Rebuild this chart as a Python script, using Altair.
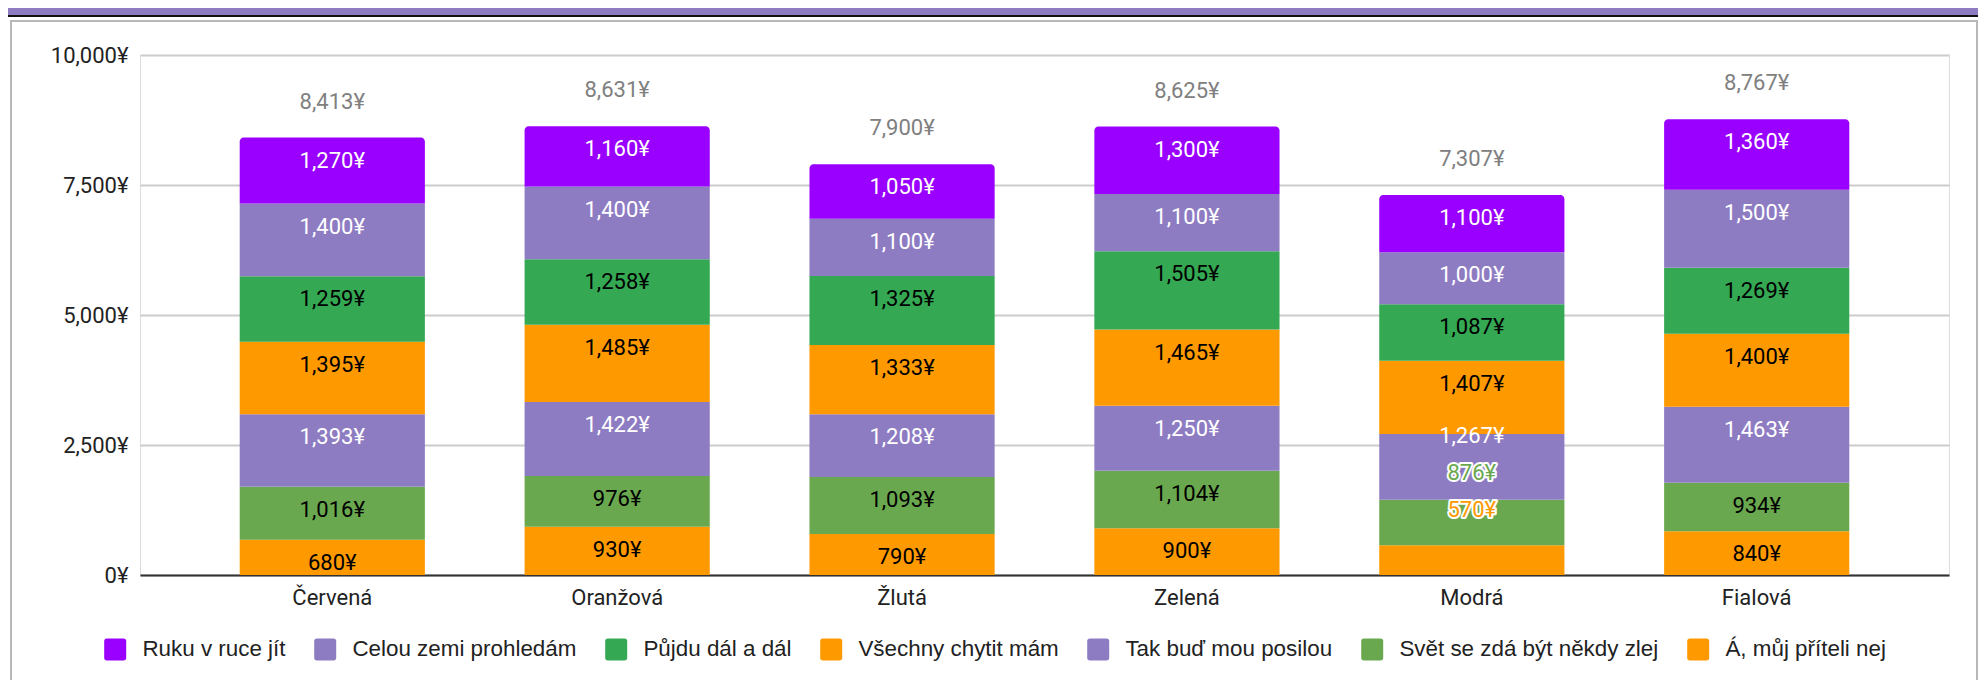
import altair as alt
import pandas as pd

# ---------------- data ----------------
categories = ["Červená", "Oranžová", "Žlutá", "Zelená", "Modrá", "Fialová"]

# legend order (top of the stack first)
series = [
    "Ruku v ruce jít",
    "Celou zemi prohledám",
    "Půjdu dál a dál",
    "Všechny chytit mám",
    "Tak buď mou posilou",
    "Svět se zdá být někdy zlej",
    "Á, můj příteli nej",
]
colors = ["#9900ff", "#8e7cc3", "#34a853", "#ff9900", "#8e7cc3", "#6aa84f", "#ff9900"]
label_colors = ["#ffffff", "#ffffff", "#000000", "#000000", "#ffffff", "#000000", "#000000"]

ruku = [1270, 1160, 1050, 1300, 1100, 1360]
celou = [1400, 1400, 1100, 1100, 1000, 1500]
pujdu = [1259, 1258, 1325, 1505, 1087, 1269]
vsechny = [1395, 1485, 1333, 1465, 1407, 1400]
tak = [1393, 1422, 1208, 1250, 1267, 1463]
svet = [1016, 976, 1093.3, 1104.3, 876, 934.3]
a_muj = [680, 930, 790.3, 900.3, 570, 840.3]

y_ticks = [0, 2500, 5000, 7500, 10000]

# ---------------- layout constants ----------------
W, H, YMAX = 1809, 520, 10000
k = H / YMAX
INSIDE_DY = 23    # label centre below segment top (px)
OUTSIDE_DY = 35   # label centre above segment top when it does not fit (px)
MIN_H = 32        # minimal segment height for an inside label (px)
GAP = 37          # minimal vertical distance between labels (px)
FONT = "Roboto"

values = dict(zip(series, [ruku, celou, pujdu, vsechny, tak, svet, a_muj]))
col_of = dict(zip(series, colors))
lab_col_of = dict(zip(series, label_colors))
stack_order = list(reversed(series))

rows, totals = [], []
for ci, cat in enumerate(categories):
    base = 0.0
    prev_center = None
    for s in stack_order:
        v = values[s][ci]
        start, end = base, base + v
        top_px = H - end * k
        center = top_px - OUTSIDE_DY if v * k < MIN_H else top_px + INSIDE_DY
        if prev_center is not None:
            center = min(center, prev_center - GAP)
        prev_center = center
        outside = center < top_px
        rows.append(dict(
            cat=cat, series=s, value=v, start=start, end=end,
            label_y=(H - center) / k, outside=outside,
            label=f"{round(v):,}¥",
            label_color=col_of[s] if outside else lab_col_of[s],
            top=(s == series[0]),
        ))
        base = end
    totals.append(dict(cat=cat, total=base, label=f"{round(base):,}¥"))

df = pd.DataFrame(rows)
df_tot = pd.DataFrame(totals)
deco = pd.DataFrame({"d": [0]})

x_enc = alt.X("cat:N", sort=categories,
              scale=alt.Scale(paddingInner=0.35, paddingOuter=0.35),
              axis=alt.Axis(title=None, labelAngle=0, ticks=False, labelPadding=12,
                            labelFontSize=22, labelFont=FONT, labelColor="#222222",
                            domainColor="#333333", domainWidth=2, grid=False))
y_scale = alt.Scale(domain=[0, YMAX], nice=False)
y_axis = alt.Axis(title=None, values=y_ticks, ticks=False, domain=False,
                  labelExpr="format(datum.value, ',') + '¥'", labelPadding=12,
                  labelFontSize=22, labelFont=FONT, labelColor="#222222",
                  gridColor="#cccccc", gridWidth=2)

rounded_square = ("M-1,-0.75 Q-1,-1 -0.75,-1 L0.75,-1 Q1,-1 1,-0.75 L1,0.75 "
                  "Q1,1 0.75,1 L-0.75,1 Q-1,1 -1,0.75 Z")

color_enc = alt.Color(
    "series:N",
    scale=alt.Scale(domain=series, range=colors),
    legend=alt.Legend(
        title=None, orient="none", legendX=-36, legendY=583,
        direction="horizontal", columns=7, symbolType=rounded_square,
        symbolSize=484, symbolStrokeWidth=0, symbolOpacity=1,
        labelFont="Liberation Sans", labelFontSize=22.4, labelColor="#222222",
        labelOffset=16, columnPadding=28, padding=0, symbolLimit=0, labelLimit=500,
    ),
)

# decorative frame of the embedded chart + strip of the sheet above it
frame = alt.Chart(deco).mark_rect(fillOpacity=0, stroke="#b7b7b7", strokeWidth=2).encode(
    x=alt.value(-129), x2=alt.value(1837), y=alt.value(-34), y2=alt.value(660))
strip = alt.Chart(deco).mark_rect(fill="#8e7cc3", stroke="#111111", strokeWidth=2).encode(
    x=alt.value(-140), x2=alt.value(1840), y=alt.value(-60), y2=alt.value(-39))

base = alt.Chart(df)

bars = base.transform_filter("!datum.top").mark_bar().encode(
    x=x_enc,
    y=alt.Y("start:Q", scale=y_scale, axis=y_axis),
    y2="end:Q",
    color=color_enc,
)
top_bars = base.transform_filter("datum.top").mark_bar(
    cornerRadiusTopLeft=4, cornerRadiusTopRight=4).encode(
    x=alt.X("cat:N", sort=categories),
    y=alt.Y("start:Q", scale=y_scale),
    y2="end:Q",
    color=color_enc,
)

inside_labels = base.transform_filter("!datum.outside").mark_text(
    font=FONT, fontSize=22, baseline="middle", align="center").encode(
    x=alt.X("cat:N", sort=categories),
    y=alt.Y("label_y:Q", scale=y_scale),
    text="label:N",
    color=alt.Color("label_color:N", scale=None),
)
outside_halo = base.transform_filter("datum.outside").mark_text(
    font=FONT, fontSize=22, baseline="middle", align="center",
    stroke="white", strokeWidth=4, strokeJoin="round", fill="white").encode(
    x=alt.X("cat:N", sort=categories),
    y=alt.Y("label_y:Q", scale=y_scale),
    text="label:N",
)
outside_labels = base.transform_filter("datum.outside").mark_text(
    font=FONT, fontSize=22, baseline="middle", align="center").encode(
    x=alt.X("cat:N", sort=categories),
    y=alt.Y("label_y:Q", scale=y_scale),
    text="label:N",
    color=alt.Color("label_color:N", scale=None),
)

total_labels = alt.Chart(df_tot).mark_text(
    font=FONT, fontSize=22, baseline="middle", align="center",
    dy=-36, color="#808080").encode(
    x=alt.X("cat:N", sort=categories),
    y=alt.Y("total:Q", scale=y_scale),
    text="label:N",
)

chart = alt.layer(
    frame, strip, bars, top_bars, inside_labels, outside_halo, outside_labels, total_labels
).properties(
    width=W, height=H,
    autosize=alt.AutoSizeParams(type="none"),
    padding={"left": 132, "top": 47, "right": 29, "bottom": 105},
).configure_view(stroke=None).configure(background="white")

chart.save("out.html", embed_options={"renderer": "svg", "actions": False})
